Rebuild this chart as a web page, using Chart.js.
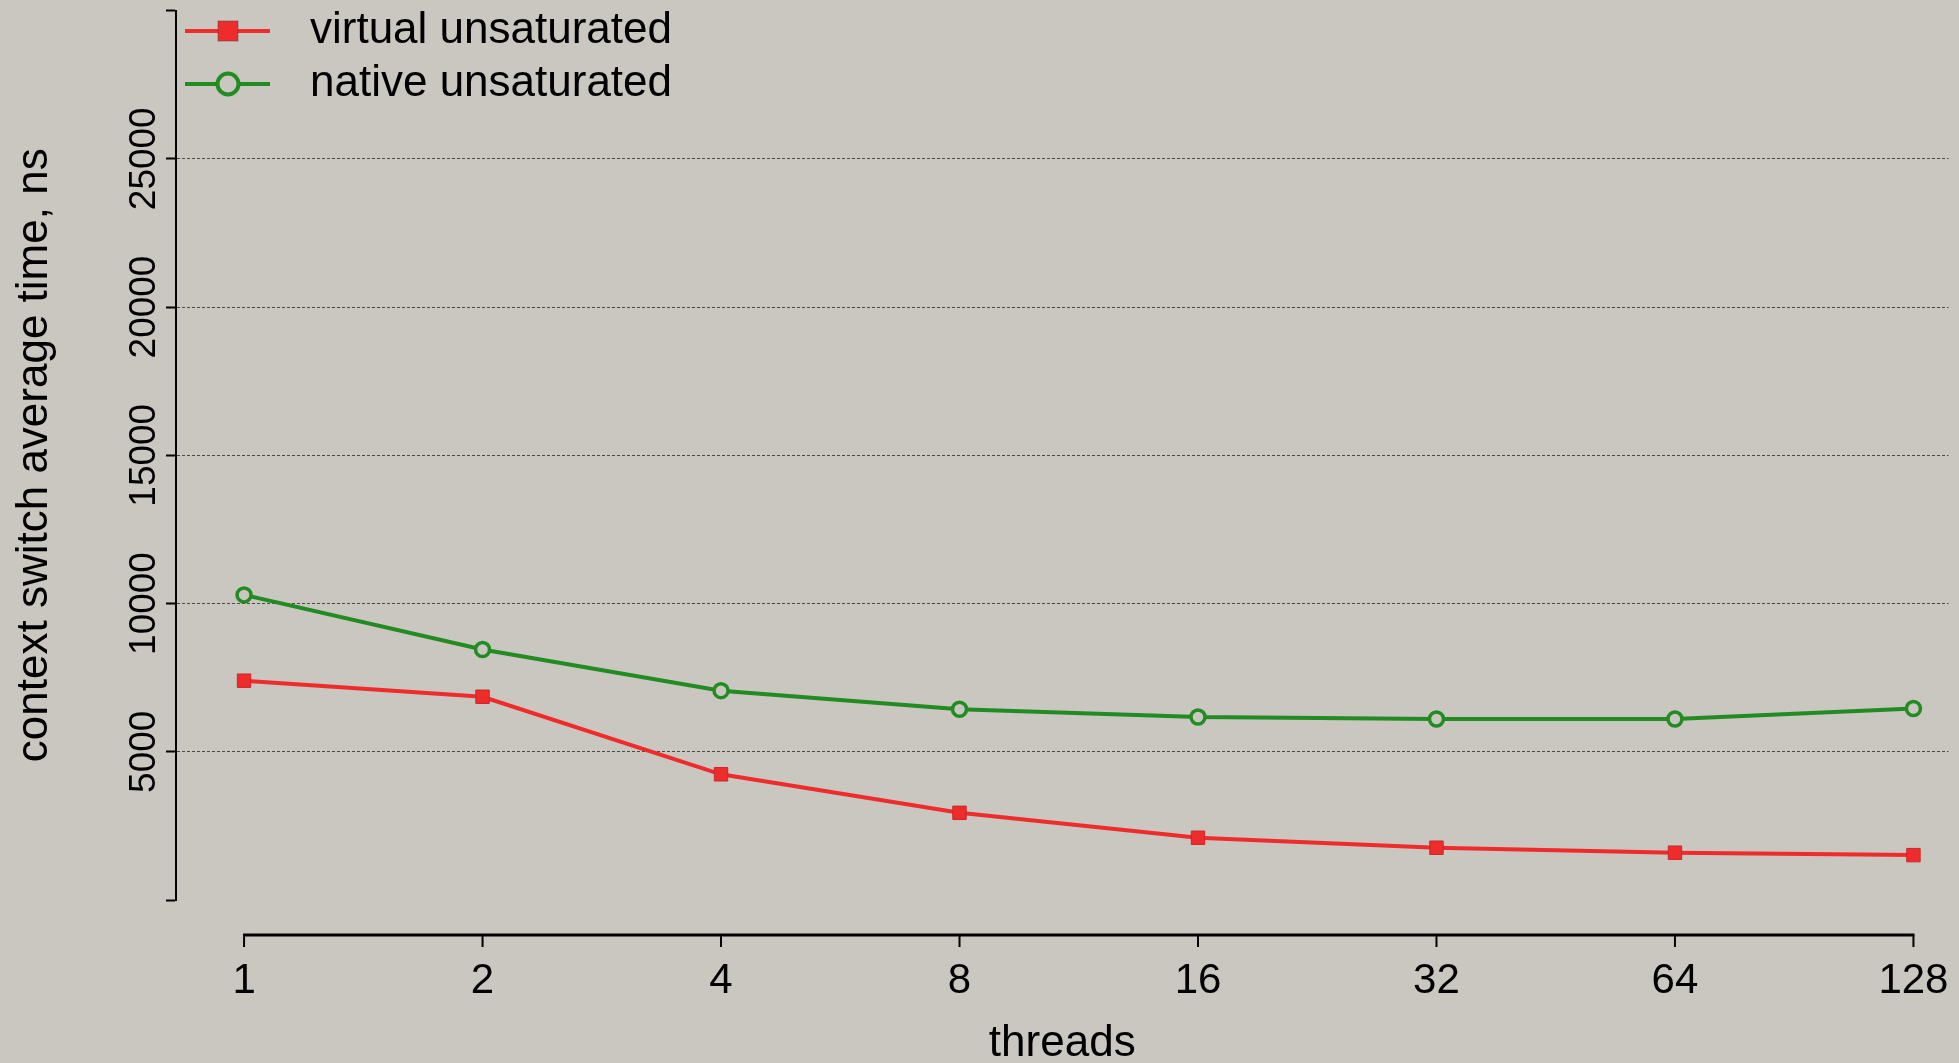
<!DOCTYPE html>
<html><head><meta charset="utf-8">
<script src="https://cdn.jsdelivr.net/npm/chart.js@4"></script>
<style>html,body{margin:0;padding:0;background:#cac6c0;overflow:hidden;width:1959px;height:1063px}canvas{display:block}</style>
</head><body>
<canvas id="c" width="1959" height="1080"></canvas>
<script>
// ---- data ----
const categories = ['1', '2', '4', '8', '16', '32', '64', '128'];
const virtualUnsaturated = [7397, 6855, 4240, 2940, 2100, 1763, 1595, 1514];
const nativeUnsaturated = [10290, 8450, 7060, 6433, 6170, 6105, 6105, 6460];
const yTickValues = [0, 5000, 10000, 15000, 20000, 25000, 30000];
const yTickLabels = ['', '5000', '10000', '15000', '20000', '25000', ''];
const seriesNames = ['virtual unsaturated', 'native unsaturated'];

const BG = '#cac6c0';
const RED = '#ee2c2c';
const GREEN = '#228b22';
const FONT = 'Liberation Sans, Arial, Helvetica, sans-serif';

function legendSymbol(color, kind) {
  const c = document.createElement('canvas');
  c.width = 103; c.height = 30;
  const g = c.getContext('2d');
  g.strokeStyle = color; g.lineWidth = 4;
  g.beginPath(); g.moveTo(0, 15); g.lineTo(85, 15); g.stroke();
  if (kind === 'rect') {
    g.fillStyle = color; g.fillRect(33, 5, 20, 20);
    g.strokeStyle = 'rgba(90,60,60,0.5)'; g.lineWidth = 1; g.strokeRect(33, 5, 20, 20);
  } else {
    g.fillStyle = BG; g.lineWidth = 4;
    g.beginPath(); g.arc(43, 15, 10.5, 0, Math.PI * 2); g.fill(); g.stroke();
  }
  return c;
}
const legendSymbols = [legendSymbol(RED, 'rect'), legendSymbol(GREEN, 'circle')];

const toPoints = arr => arr.map((v, i) => ({x: i, y: v}));

const xAxisPlugin = {
  id: 'detachedXAxis',
  afterDraw(chart) {
    const xs = chart.scales.x;
    const ctx = chart.ctx;
    const y0 = 935;
    const x1 = xs.getPixelForValue(0), x2 = xs.getPixelForValue(categories.length - 1);
    ctx.save();
    ctx.strokeStyle = '#000';
    ctx.lineWidth = 3;
    ctx.beginPath(); ctx.moveTo(x1 - 1, y0); ctx.lineTo(x2 + 1, y0); ctx.stroke();
    ctx.lineWidth = 2;
    categories.forEach((c, i) => {
      const px = xs.getPixelForValue(i);
      ctx.beginPath(); ctx.moveTo(px, y0); ctx.lineTo(px, y0 + 12); ctx.stroke();
    });
    ctx.restore();
  }
};

new Chart(document.getElementById('c'), {
  type: 'line',
  data: {
    datasets: [
      {
        label: seriesNames[0],
        data: toPoints(virtualUnsaturated),
        borderColor: RED, backgroundColor: RED, borderWidth: 4,
        pointStyle: 'rect', pointRadius: 9.5, pointBorderWidth: 1,
        pointBackgroundColor: RED, pointBorderColor: 'rgba(200,40,40,1)', tension: 0
      },
      {
        label: seriesNames[1],
        data: toPoints(nativeUnsaturated),
        borderColor: GREEN, backgroundColor: GREEN, borderWidth: 4,
        pointStyle: 'circle', pointRadius: 7, pointBorderWidth: 3.5,
        pointBackgroundColor: BG, pointBorderColor: GREEN, tension: 0
      }
    ]
  },
  options: {
    responsive: false,
    animation: false,
    devicePixelRatio: 1,
    layout: {padding: {top: 10, left: 0, right: 0, bottom: 0}},
    plugins: {
      tooltip: {enabled: false},
      legend: {
        position: 'chartArea',
        align: 'start',
        labels: {
          usePointStyle: true,
          pointStyleWidth: 103,
          padding: 9,
          color: '#000',
          font: {family: FONT, size: 44},
          generateLabels: chart => chart.data.datasets.map((ds, i) => ({
            text: ds.label, pointStyle: legendSymbols[i], fillStyle: 'transparent',
            strokeStyle: 'transparent', lineWidth: 0, hidden: false, datasetIndex: i, fontColor: '#000'
          }))
        }
      }
    },
    scales: {
      x: {
        type: 'linear',
        min: -0.2854, max: 7.147,
        afterBuildTicks: s => { s.ticks = categories.map((c, i) => ({value: i})); },
        afterFit: s => { s.height = 180; s.paddingLeft = 0; s.paddingRight = 0; },
        grid: {display: false, drawTicks: false},
        border: {display: false},
        ticks: {
          color: '#000', font: {family: FONT, size: 42}, padding: 56,
          maxRotation: 0, minRotation: 0, autoSkip: false,
          callback: v => categories[v]
        },
        title: {display: true, text: 'threads', color: '#000', font: {family: FONT, size: 44}, padding: {top: 0, bottom: 10}}
      },
      y: {
        type: 'linear',
        min: 0, max: 30000,
        afterBuildTicks: s => { s.ticks = yTickValues.map(v => ({value: v})); },
        afterFit: s => { s.width = 176; s.paddingTop = 0; s.paddingBottom = 0; },
        grid: {
          color: c => (c.tick && (c.tick.value === 0 || c.tick.value === 30000)) ? 'rgba(0,0,0,0)' : '#4a4a4a',
          lineWidth: 1, tickColor: '#000', tickWidth: 2, tickLength: 10, drawTicks: true
        },
        border: {display: true, color: '#000', width: 2, dash: [3, 2]},
        ticks: {
          color: '#000', font: {family: FONT, size: 37}, padding: -30,
          minRotation: 90, maxRotation: 90, crossAlign: 'center', autoSkip: false,
          callback: (v, i) => yTickLabels[i]
        },
        title: {display: true, text: 'context switch average time, ns', color: '#000', font: {family: FONT, size: 44}, padding: {top: 8, bottom: 0}}
      }
    }
  },
  plugins: [xAxisPlugin]
});
</script>
</body></html>
